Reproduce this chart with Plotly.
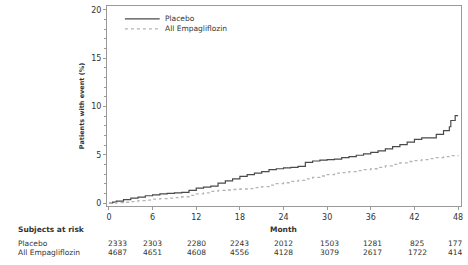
import plotly.graph_objects as go

months_placebo = [0, 0.5, 1, 2, 3, 4, 5, 6, 7, 8, 9, 10, 11, 12, 13, 14, 15, 16, 17, 18, 19, 20,
                  21, 22, 23, 24, 25, 26, 27, 28, 29, 30, 31, 32, 33, 34, 35, 36, 37, 38, 39, 40,
                  41, 42, 43, 44, 45, 46, 46.8, 47, 47.6, 48]
placebo = [0, 0.1, 0.2, 0.35, 0.5, 0.6, 0.75, 0.85, 0.95, 1.0, 1.05, 1.1, 1.3, 1.55, 1.65, 1.75,
           2.05, 2.3, 2.5, 2.75, 2.95, 3.1, 3.25, 3.45, 3.55, 3.65, 3.7, 3.8, 4.2, 4.35, 4.45, 4.5,
           4.55, 4.7, 4.8, 4.95, 5.1, 5.25, 5.4, 5.6, 5.85, 6.05, 6.3, 6.6, 6.75, 6.75, 7.1, 7.5,
           7.9, 8.55, 9.05, 9.05]

months_empa = list(range(0, 49))
empa = [0, 0.03, 0.08, 0.15, 0.25, 0.3, 0.4, 0.45, 0.5, 0.55, 0.65, 0.8, 0.95, 1.05, 1.2, 1.3,
        1.35, 1.4, 1.45, 1.5, 1.6, 1.7, 1.85, 2.0, 2.1, 2.25, 2.35, 2.5, 2.65, 2.8, 2.95, 3.1,
        3.15, 3.25, 3.35, 3.45, 3.55, 3.7, 3.85, 4.0, 4.15, 4.3, 4.4, 4.5, 4.6, 4.7, 4.8, 4.9, 4.95]

risk_months = [0, 6, 12, 18, 24, 30, 36, 42, 48]
risk_placebo = [2333, 2303, 2280, 2243, 2012, 1503, 1281, 825, 177]
risk_empa = [4687, 4651, 4608, 4556, 4128, 3079, 2617, 1722, 414]
row_labels = ["Placebo", "All Empagliflozin"]
series_names = ["Placebo", "All Empagliflozin"]

FONT = "DejaVu Sans"
TXT = "#333333"
AX = "#9a9a9a"
C_PLA = "#4a4a4a"
C_EMP = "#b4b4b4"

fig = go.Figure()
fig.add_trace(go.Scatter(x=months_placebo, y=placebo, mode="lines", name=series_names[0],
                         line=dict(color=C_PLA, width=1.2, shape="hv")))
fig.add_trace(go.Scatter(x=months_empa, y=empa, mode="lines", name=series_names[1],
                         line=dict(color=C_EMP, width=1.3, dash="dot", shape="hv")))

fig.update_layout(
    width=468, height=265,
    margin=dict(l=107, r=5, t=5, b=59),
    paper_bgcolor="white", plot_bgcolor="white",
    font=dict(family=FONT, size=7.5, color=TXT),
    showlegend=False,
)
fig.update_xaxes(range=[-0.27, 48.4], tickvals=risk_months, ticks="outside", ticklen=3,
                 tickcolor=AX, showline=True, linecolor=AX, linewidth=1, mirror=True,
                 showgrid=False, zeroline=False, tickfont=dict(size=8, color=TXT))
fig.update_yaxes(range=[-0.31, 20.41], tickvals=[0, 5, 10, 15, 20], ticks="outside", ticklen=3,
                 tickcolor=AX, showline=True, linecolor=AX, linewidth=1, mirror=True,
                 showgrid=False, zeroline=False, tickfont=dict(size=8, color=TXT),
                 minor=dict(dtick=1, ticks="outside", ticklen=2, tickcolor=AX),
                 title=dict(text="<b>Patients with event (%)</b>", font=dict(size=6.5, color=TXT),
                            standoff=5))

def py(p):
    return (206 - p) / 201

def px(p):
    return (p - 107) / 356

# custom legend
shapes = []
ann = []
leg_y = [18, 28]
leg_styles = [dict(color=C_PLA, width=1.2), dict(color=C_EMP, width=1.3, dash="dot")]
for name, yy, st in zip(series_names, leg_y, leg_styles):
    shapes.append(dict(type="line", xref="paper", yref="paper", x0=px(125), x1=px(160),
                       y0=py(yy), y1=py(yy), line=st))
    ann.append(dict(text=name, x=px(163), y=py(yy), xref="paper", yref="paper",
                    xanchor="left", yanchor="middle", showarrow=False,
                    font=dict(size=7.5, color=TXT)))

ann.append(dict(text="<b>Subjects at risk</b>", x=px(15), y=py(230), xref="paper", yref="paper",
                xanchor="left", yanchor="middle", showarrow=False, font=dict(size=7.5, color=TXT)))
ann.append(dict(text="<b>Month</b>", x=24, y=py(230), xref="x", yref="paper",
                xanchor="center", yanchor="middle", showarrow=False, font=dict(size=7.5, color=TXT)))
rows_y = [py(243.7), py(253)]
for lbl, yy in zip(row_labels, rows_y):
    ann.append(dict(text=lbl, x=px(15), y=yy, xref="paper", yref="paper", xanchor="left",
                    yanchor="middle", showarrow=False, font=dict(size=7.5, color=TXT)))
shifts = [9, 0, 0, 0, 0, 2, 2, 3, -3]
for vals, yy in zip([risk_placebo, risk_empa], rows_y):
    for m, v, s in zip(risk_months, vals, shifts):
        ann.append(dict(text=str(v), x=m, y=yy, xref="x", yref="paper", xanchor="center",
                        yanchor="middle", xshift=s, showarrow=False,
                        font=dict(size=7.5, color=TXT)))
fig.update_layout(annotations=ann, shapes=shapes)

fig.write_html("out.html")
